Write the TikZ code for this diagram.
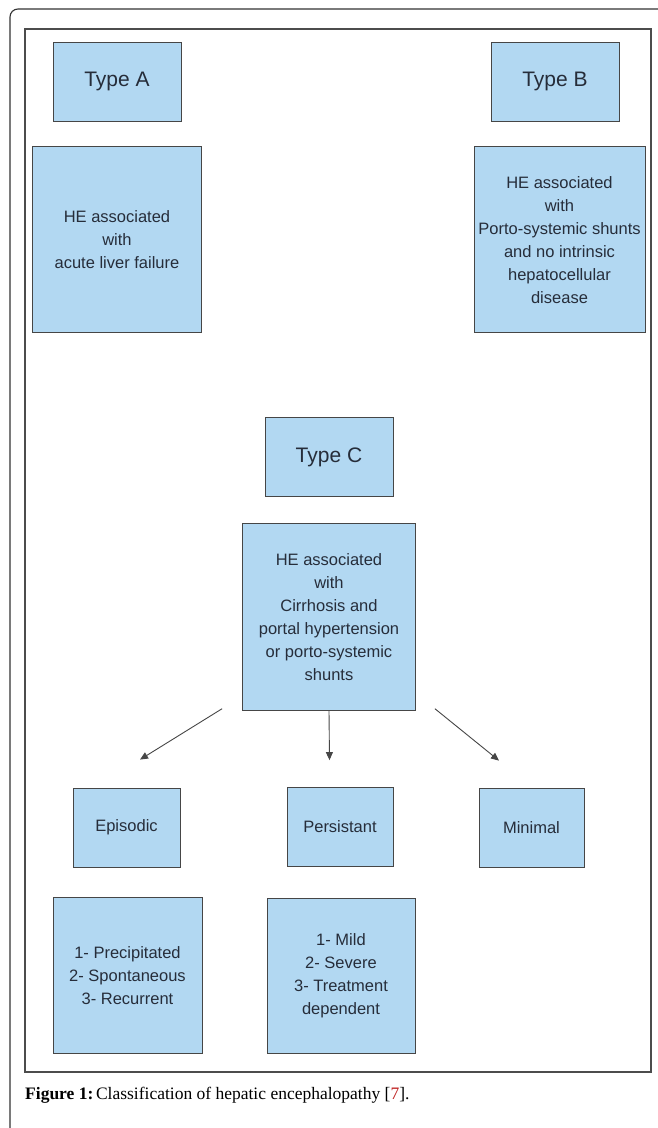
\documentclass[tikz,border=0pt]{standalone}
\usepackage{fontspec}
\setmainfont{Liberation Serif}
\newfontfamily\diagfont{Liberation Sans}
\usepackage{xcolor}
\usepackage{tikz}
\usetikzlibrary{arrows.meta, positioning, calc}

\definecolor{boxblue}{RGB}{178,216,242}
\definecolor{boxline}{RGB}{70,70,70}
\definecolor{boxtext}{RGB}{38,45,58}
\definecolor{citered}{RGB}{190,30,30}

\begin{document}
\begin{tikzpicture}[node distance=25pt, auto,
    typebox/.style={rectangle, draw=boxline, fill=boxblue, line width=0.8pt, inner sep=0pt, text=boxtext, font=\diagfont\fontsize{21}{25}\selectfont, minimum width=128pt, minimum height=79pt},
    descbox/.style={rectangle, draw=boxline, fill=boxblue, line width=0.8pt, inner sep=0pt, text=boxtext, align=center, font=\diagfont\fontsize{16.5}{23}\selectfont},
    subbox/.style={descbox, minimum width=106pt, minimum height=79pt},
    link/.style={draw=boxline, line width=0.9pt, -{Triangle[length=8pt,width=7pt]}}
]
    \useasboundingbox (0,0) rectangle (657pt,-1128pt);

    % Frames
    \draw [line width=1.1pt, black!80, rounded corners=8pt] (10pt,-1135pt) -- (10pt,-9pt) -- (665pt,-9pt);
    \draw [line width=1.2pt, black!70] (25pt,-29pt) rectangle (651pt,-1072pt);

    \node [typebox] (typeA) at (117pt,-81.5pt) {Type A};
    \node [descbox, below=25pt of typeA, minimum width=169pt, minimum height=186pt] (heA) {HE associated\\with\\acute liver failure};

    \node [typebox] (typeB) at (555pt,-81.5pt) {Type B};
    \node [descbox, below=25pt of typeB, xshift=4.5pt, minimum width=171pt, minimum height=186pt] (heB) {HE associated\\with\\Porto-systemic shunts\\and no intrinsic\\hepatocellular\\disease};

    \node [typebox] (typeC) at (329pt,-457pt) {Type C};
    \node [descbox, below=26pt of typeC, minimum width=173pt, minimum height=187pt] (heC) {HE associated\\with\\Cirrhosis and\\portal hypertension\\or porto-systemic\\shunts};

    \node [subbox, minimum width=107pt] (epi) at (126.5pt,-827.5pt) {Episodic};
    \node [subbox] (pers) at (340pt,-827pt) {Persistant};
    \node [subbox, minimum width=105pt] (mini) at (531.5pt,-827.5pt) {Minimal};

    \node [descbox, below=30pt of epi, xshift=1pt, minimum width=149pt, minimum height=156pt] (epiList) {1- Precipitated\\2- Spontaneous\\3- Recurrent};
    \node [descbox, below=31pt of pers, xshift=1pt, minimum width=148pt, minimum height=155pt] (persList) {1- Mild\\2- Severe\\3- Treatment\\dependent};

    % Arrows
    \draw [link] ($(heC.south west)+(-20pt,2pt)$) -- ($(epi.north)+(13.5pt,28pt)$);
    \draw [link] (heC.south) -- ($(pers.north)+(-10.5pt,27pt)$);
    \draw [link] ($(heC.south east)+(19pt,2pt)$) -- ($(mini.north)+(-32.5pt,27pt)$);

    \node [anchor=base west, inner sep=0pt, font=\fontsize{17.5}{20}\selectfont] (caption) at (25pt,-1099pt) {\textbf{Figure 1:}\hspace{0.15em}Classification of hepatic encephalopathy [\textcolor{citered}{7}].};
\end{tikzpicture}
\end{document}
